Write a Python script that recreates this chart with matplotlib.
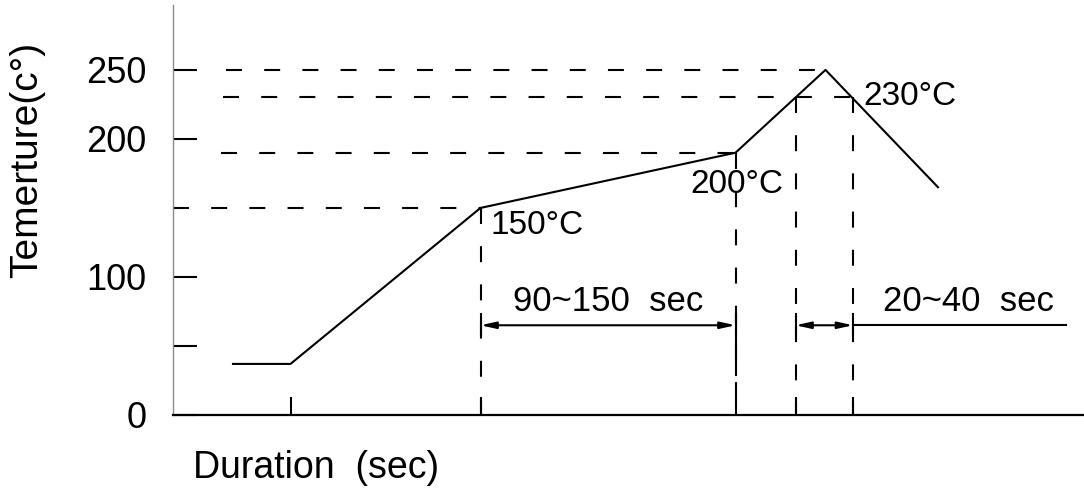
import matplotlib
matplotlib.use("Agg")
import matplotlib.pyplot as plt

plt.rcParams['font.family'] = ['Liberation Sans', 'DejaVu Sans']
plt.rcParams['lines.scale_dashes'] = False

# reflow profile (time in arbitrary sec units, temperature in C)
time = [24, 47, 123, 225, 261, 306]
temp = [37, 37, 150, 190, 250, 165]

# dashed horizontal guides
h_temp = [250, 230, 190, 150]
h_start = [21, 20, 19, 0]
h_end = [261, 274, 225, 123]

# dashed vertical guides
v_time = [123, 225, 249, 272]
v_top = [150, 190, 230, 230]

# point labels
lab_text = ['150°C', '200°C', '230°C']
lab_time = [127, 207, 276]
lab_temp = [137, 167, 231]

# span arrows
span_text = ['90~150  sec', '20~40  sec']
span_from = [123, 249]
span_to = [225, 272]
span_temp = 65
span_tail = 357

yticks = [0, 50, 100, 200, 250]
ylabels = ['0', '', '100', '200', '250']
xticks = [47, 123, 225, 249, 272]

DASH = (11.5, 16)

fig = plt.figure(figsize=(10.84, 4.93), dpi=100)
ax = fig.add_axes([173/1084, 1 - 415/493, 1 - 173/1084, 410/493])
ax.set_xlim(0, 364.4)
ax.set_ylim(0, 297)

for s in ['top', 'right']:
    ax.spines[s].set_visible(False)
ax.spines['left'].set_color('0.55')
ax.spines['left'].set_linewidth(1.0)
ax.spines['bottom'].set_linewidth(1.6)

ax.set_yticks(yticks)
ax.set_yticklabels(ylabels)
ax.set_xticks(xticks)
ax.set_xticklabels([])
ax.tick_params(axis='y', direction='in', length=17, width=1.5, pad=19, labelsize=26)
ax.tick_params(axis='x', direction='in', length=13, width=1.5)

# profile
ax.plot(time, temp, color='k', lw=1.5)

# guides
for t, a, b in zip(h_temp, h_start, h_end):
    ax.plot([a, b], [t, t], color='k', lw=1.5, dashes=DASH)
for t, top in zip(v_time, v_top):
    ax.plot([t, t], [top, 0], color='k', lw=1.5, dashes=DASH)

for txt, x, y in zip(lab_text, lab_time, lab_temp):
    ax.text(x, y, txt, fontsize=24, ha='left', va='center')

# span arrows
for a, b in zip(span_from, span_to):
    ax.annotate('', xy=(a, span_temp), xytext=(b, span_temp),
                arrowprops=dict(arrowstyle='<|-|>,head_length=0.9,head_width=0.2',
                                lw=1.5, color='k', shrinkA=0, shrinkB=0,
                                mutation_scale=10))
    ax.plot([a, a], [span_temp - 6, span_temp + 8], color='k', lw=1.5)
    ax.plot([b, b], [span_temp - 6, span_temp + 8], color='k', lw=1.5)
ax.plot([span_to[0], span_to[0]], [29, 72], color='k', lw=1.5)
ax.plot([span_to[1], span_tail], [span_temp, span_temp], color='k', lw=1.5)

ax.text((span_from[0] + span_to[0]) / 2, 82, span_text[0], fontsize=25, ha='center', va='center')
ax.text(318, 82, span_text[1], fontsize=25, ha='center', va='center')

fig.text(27/1084, 1 - 160/493, 'Temerture(c°)', rotation=90, fontsize=28,
         ha='center', va='center')
fig.text(193/1084, 1 - 468/493, 'Duration  (sec)', fontsize=27, ha='left', va='center')

fig.savefig('out.png', dpi=100)
